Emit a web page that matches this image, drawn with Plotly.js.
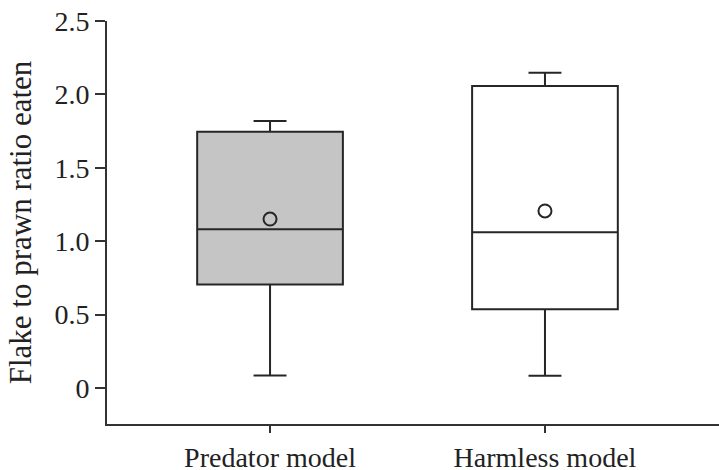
<!DOCTYPE html>
<html>
<head>
<meta charset="utf-8">
<script src="https://cdn.plot.ly/plotly-3.0.1.min.js"></script>
<style>html,body{margin:0;padding:0;background:#fff;}#chart{width:719px;height:470px;}</style>
</head>
<body>
<div id="chart"></div>
<script>
const categories = ['Predator model', 'Harmless model'];
const lowerWhisker = [0.086, 0.084];
const q1Values = [0.706, 0.536];
const medianValues = [1.081, 1.061];
const q3Values = [1.745, 2.057];
const upperWhisker = [1.819, 2.148];
const meanValues = [1.151, 1.206];
const boxFills = ['#c4c5c4', '#ffffff'];
const yTickVals = [0, 0.5, 1.0, 1.5, 2.0, 2.5];
const yTickText = ['0', '0.5', '1.0', '1.5', '2.0', '2.5'];

const lineColor = '#262626';
const traces = categories.map((c, i) => ({
  type: 'box',
  x: [c],
  q1: [q1Values[i]],
  median: [medianValues[i]],
  q3: [q3Values[i]],
  lowerfence: [lowerWhisker[i]],
  upperfence: [upperWhisker[i]],
  fillcolor: boxFills[i],
  line: {color: lineColor, width: 2},
  width: 0.53,
  whiskerwidth: 0.226,
  boxpoints: false,
  hoverinfo: 'skip',
  showlegend: false
}));
traces.push({
  type: 'scatter',
  mode: 'markers',
  x: categories,
  y: meanValues,
  marker: {symbol: 'circle-open', size: 13, color: lineColor, line: {width: 2, color: lineColor}},
  showlegend: false,
  hoverinfo: 'skip'
});

const layout = {
  width: 719, height: 470,
  margin: {l: 107, r: 0, t: 21, b: 46},
  paper_bgcolor: '#fff', plot_bgcolor: '#fff',
  font: {family: '"Liberation Serif", "Times New Roman", serif', color: '#222'},
  showlegend: false,
  xaxis: {
    type: 'category',
    categoryorder: 'array', categoryarray: categories,
    range: [-0.593, 1.633],
    showgrid: false, zeroline: false,
    showline: true, linecolor: '#333', linewidth: 2,
    ticks: 'outside', ticklen: 7, tickwidth: 2, tickcolor: '#333',
    tickfont: {size: 28, color: '#222'}
  },
  yaxis: {
    range: [-0.245, 2.5],
    tickvals: yTickVals, ticktext: yTickText,
    showgrid: false, zeroline: false,
    showline: true, linecolor: '#333', linewidth: 2,
    ticks: 'outside', ticklen: 10, tickwidth: 2, tickcolor: '#333',
    tickfont: {size: 28, color: '#222'},
    title: {text: 'Flake to prawn ratio eaten', font: {size: 31, color: '#222'}, standoff: 14}
  }
};
Plotly.newPlot('chart', traces, layout, {displayModeBar: false, staticPlot: true});
</script>
</body>
</html>
